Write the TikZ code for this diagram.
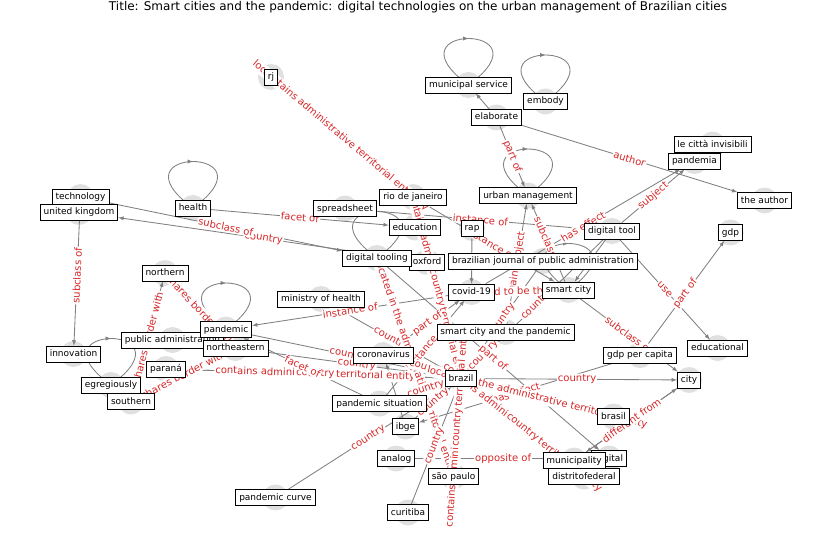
\documentclass[tikz,border=0pt]{standalone}
\usepackage{fontspec}
\setmainfont{DejaVu Sans}
\usetikzlibrary{arrows,
                backgrounds,
                decorations.markings}
\definecolor{edgegray}{RGB}{128,128,128}
\definecolor{labelred}{RGB}{214,39,40}
\definecolor{halogray}{RGB}{224,224,224}
\tikzset{entity/.style=
   {rectangle,
    draw,
    fill=white,
    line width=0.8pt,
    inner xsep=3.5pt,
    inner ysep=3.5pt,
    text height=7pt,
    text depth=2pt,
    font=\fontsize{9}{10}\selectfont}}
\tikzset{relation/.style = {color=edgegray, line width=0.85pt, -latex}}
\tikzset{relation-label/.style =
   {sloped,
    fill=white,
    rounded corners=2pt,
    inner sep=1pt,
    text=labelred,
    font=\fontsize{10}{11}\selectfont}}
\tikzset{halo/.style = {fill=halogray}}
\tikzset{selfloop/.style =
   {color=edgegray,
    line width=0.85pt,
    postaction={decorate},
    decoration={markings, mark=at position 0.5 with {\arrow{latex}}}}}
\newcommand{\relationlist}{%
  rj/rio/0.5/located in the administrative territorial entity,
  rio/rj/0.5/contains administrative territorial entity,
  elab/urban/0.5/part of,
  elab/author/0.5/author,
  dtool/pandemia/0.5/subject,
  covid/pandemia/0.5/has effect,
  oxford/uk/0.5/country,
  tech/dtooling/0.5/subclass of,
  tech/innov/0.5/subclass of,
  health/edu/0.5/facet of,
  sheet/dtool/0.5/instance of,
  brazil/rio/0.5/contains administrative territorial entity,
  rio/brazil/0.5/country,
  rio/scity/0.5/instance of,
  scity/urban/0.5/subclass of,
  scpan/urban/0.5/main subject,
  covid/pandemic/0.5/instance of,
  southern/northern/0.5/shares border with,
  northeast/northern/0.5/shares border with,
  southern/northeast/0.5/shares border with,
  brazil/parana/0.5/contains administrative territorial entity,
  parana/brazil/0.5/country,
  pandemic/brazil/0.5/country,
  northeast/brazil/0.5/country,
  psit/pandemic/0.5/facet of,
  moh/brazil/0.5/country,
  dtooling/sp/0.5/located in the administrative territorial entity,
  corona/covid/0.5/part of,
  psit/covid/0.5/instance of,
  corona/brazil/0.5/country,
  covid/scity/0.9/said to be the same as,
  scity/city/0.5/subclass of,
  dtool/educ/0.5/use,
  gdppc/gdp/0.5/part of,
  dtool/brazil/0.5/country,
  journal/brazil/0.5/country,
  scpan/brazil/0.5/country,
  dtooling/digital/0.5/part of,
  brazil/city/0.5/country,
  gdppc/ibge/0.5/has effect,
  brasil/brazil/0.5/located in the administrative territorial entity,
  brazil/distr/0.5/contains administrative territorial entity,
  distr/brazil/0.5/country,
  city/munic/0.5/different from,
  munic/city/0.5/different from,
  analog/digital/0.5/opposite of,
  brazil/psit/0.5/country,
  ibge/brazil/0.5/country,
  pcurve/brazil/0.5/country,
  curitiba/brazil/0.5/country,
  brazil/sp/0.5/contains administrative territorial entity,
  sp/brazil/0.5/country}

\begin{document}
\begin{tikzpicture}[x=1pt, y=-1pt]

    \useasboundingbox (0,0) rectangle (837,559);

    \node [font=\fontsize{12}{13}\selectfont] (title) at (418,7)
    {Title: Smart cities and the pandemic: digital technologies on the urban management of Brazilian cities};

    % entities
    \node [entity] (rj)        at (271,77)    {rj};
    \node [entity] (msvc)      at (468.5,85)  {municipal service};
    \node [entity] (embody)    at (545.5,101.5) {embody};
    \node [entity] (elab)      at (496.5,117.5) {elaborate};
    \node [entity] (citta)     at (712.5,144.5) {le città invisibili};
    \node [entity] (pandemia)  at (694.5,161) {pandemia};
    \node [entity] (author)    at (764.5,200.5) {the author};
    \node [entity] (tech)      at (80.5,197)  {technology};
    \node [entity] (uk)        at (79,212)    {united kingdom};
    \node [entity] (health)    at (193,208)   {health};
    \node [entity] (sheet)     at (345,208.5) {spreadsheet};
    \node [entity] (rio)       at (413,197)   {rio de janeiro};
    \node [entity] (urban)     at (528,195.5) {urban management};
    \node [entity] (edu)       at (415,227.5) {education};
    \node [entity] (rap)       at (472,228)   {rap};
    \node [entity] (dtool)     at (612,231)   {digital tool};
    \node [entity] (gdp)       at (730.5,232.5) {gdp};
    \node [entity] (oxford)    at (427,262)   {oxford};
    \node [entity] (dtooling)  at (377,258)   {digital tooling};
    \node [entity] (journal)   at (543,261)   {brazilian journal of public administration};
    \node [entity] (northern)  at (165,273)   {northern};
    \node [entity] (covid)     at (471.5,292) {covid-19};
    \node [entity] (scity)     at (568.5,290) {smart city};
    \node [entity] (moh)       at (321,299)   {ministry of health};
    \node [entity] (scpan)     at (505.5,332) {smart city and the pandemic};
    \node [entity] (pubadm)    at (172.5,340) {public administration};
    \node [entity] (pandemic)  at (226,329.5) {pandemic};
    \node [entity] (northeast) at (235.5,348) {northeastern};
    \node [entity] (innov)     at (73.5,354)  {innovation};
    \node [entity] (corona)    at (383.5,355) {coronavirus};
    \node [entity] (gdppc)     at (640,355)   {gdp per capita};
    \node [entity] (educ)      at (717.5,348) {educational};
    \node [entity] (parana)    at (166,369)   {paraná};
    \node [entity] (egreg)     at (111,385)   {egregiously};
    \node [entity] (city)      at (689,380)   {city};
    \node [entity] (brazil)    at (461,378.5) {brazil};
    \node [entity] (southern)  at (131,401.5) {southern};
    \node [entity] (psit)      at (379.5,403.5) {pandemic situation};
    \node [entity] (brasil)    at (613.5,416.5) {brasil};
    \node [entity] (ibge)      at (405.5,426.5) {ibge};
    \node [entity] (analog)    at (396,458.5) {analog};
    \node [entity] (digital)   at (609,458.5) {digital};
    \node [entity] (munic)     at (574,460.5) {municipality};
    \node [entity] (distr)     at (584,476.5) {distritofederal};
    \node [entity] (sp)        at (453.5,476.5) {são paulo};
    \node [entity] (pcurve)    at (275.5,497.5) {pandemic curve};
    \node [entity] (curitiba)  at (408,512.5) {curitiba};

    \begin{pgfonlayer}{background}
        % grey discs behind the entities
        \foreach \n in {rj, msvc, embody, elab, citta, pandemia, author, tech, uk,
                        health, sheet, rio, urban, edu, rap, dtool, gdp, oxford,
                        dtooling, journal, northern, covid, scity, moh, scpan,
                        pubadm, pandemic, northeast, innov, corona, gdppc, educ,
                        parana, egreg, city, brazil, southern, psit, brasil, ibge,
                        analog, digital, munic, distr, sp, pcurve, curitiba}
            \fill [halo] (\n.center) circle (13);

        % relations
        \foreach \a/\b/\p/\l in \relationlist
            \draw [relation] (\a) -- (\b);
        \draw [relation] (elab) -- (msvc);
        \draw [relation] (dtool) -- (scity);
        \draw [relation] (rap) -- (covid);
        \draw [relation] (rio) -- (edu);
        \draw [relation] (ibge) -- (corona);

        % self loops
        \foreach \n in {msvc, embody, urban, health, dtooling, scity, pandemic, egreg}
            \draw [selfloop] (\n.center) .. controls +(-85,-62) and +(85,-62) .. (\n.center);

        % relation labels
        \foreach \a/\b/\p/\l in \relationlist
            \path (\a) -- (\b) node [relation-label, pos=\p] {\l};
    \end{pgfonlayer}

\end{tikzpicture}
\end{document}
